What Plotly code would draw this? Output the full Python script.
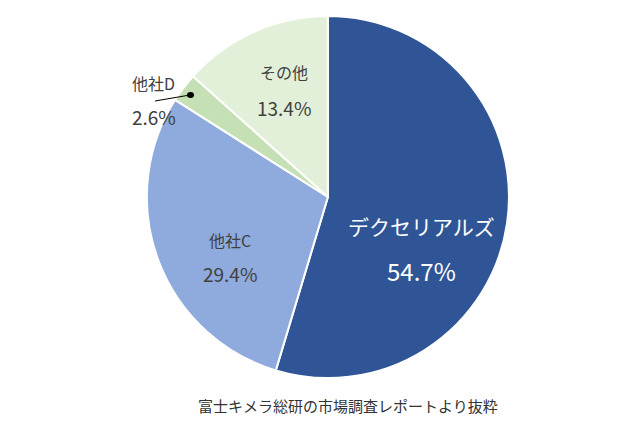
import plotly.graph_objects as go

labels = ["デクセリアルズ", "他社C", "他社D", "その他"]
values = [54.7, 29.4, 2.6, 13.4]
colors = ["#2F5597", "#8FAADC", "#C5E0B4", "#E2F0D9"]

F = "Noto Sans CJK JP"
fig = go.Figure(go.Pie(
    labels=labels, values=values, sort=False, direction="clockwise", rotation=0,
    marker=dict(colors=colors, line=dict(color="white", width=2)),
    textinfo="none", hoverinfo="label+percent", showlegend=False,
    domain=dict(x=[0.224, 0.808], y=[0.159, 0.982]),
))

def t(x, y, s, size, color):
    fig.add_annotation(x=x/620, y=1-y/440, xref="paper", yref="paper", showarrow=False,
                       text=s, font=dict(family=F, size=size, color=color))

t(413, 218, labels[0], 21, "white")
t(413, 262, f"{values[0]}%", 24, "white")
t(222, 232, labels[1], 16, "#404040")
t(222, 265, f"{values[1]}%", 19, "#404040")
t(276, 50, labels[3], 16, "#404040")
t(276, 84, f"{values[3]}%", 19, "#404040")
t(122, 61, labels[2], 16, "#404040")
t(122, 93, f"{values[2]}%", 19, "#404040")
fig.add_shape(type="line", xref="paper", yref="paper",
              x0=147/620, y0=1-93/440, x1=182/620, y1=1-87/440,
              line=dict(color="black", width=1))
fig.add_shape(type="circle", xref="paper", yref="paper",
              x0=179/620, y0=1-90/440, x1=186/620, y1=1-84/440,
              fillcolor="black", line=dict(color="black", width=0))
t(340, 410, "富士キメラ総研の市場調査レポートより抜粋", 15, "#333333")

fig.update_layout(width=620, height=440, margin=dict(l=0, r=0, t=0, b=0),
                  paper_bgcolor="white", plot_bgcolor="white")
fig.write_html("out.html")
